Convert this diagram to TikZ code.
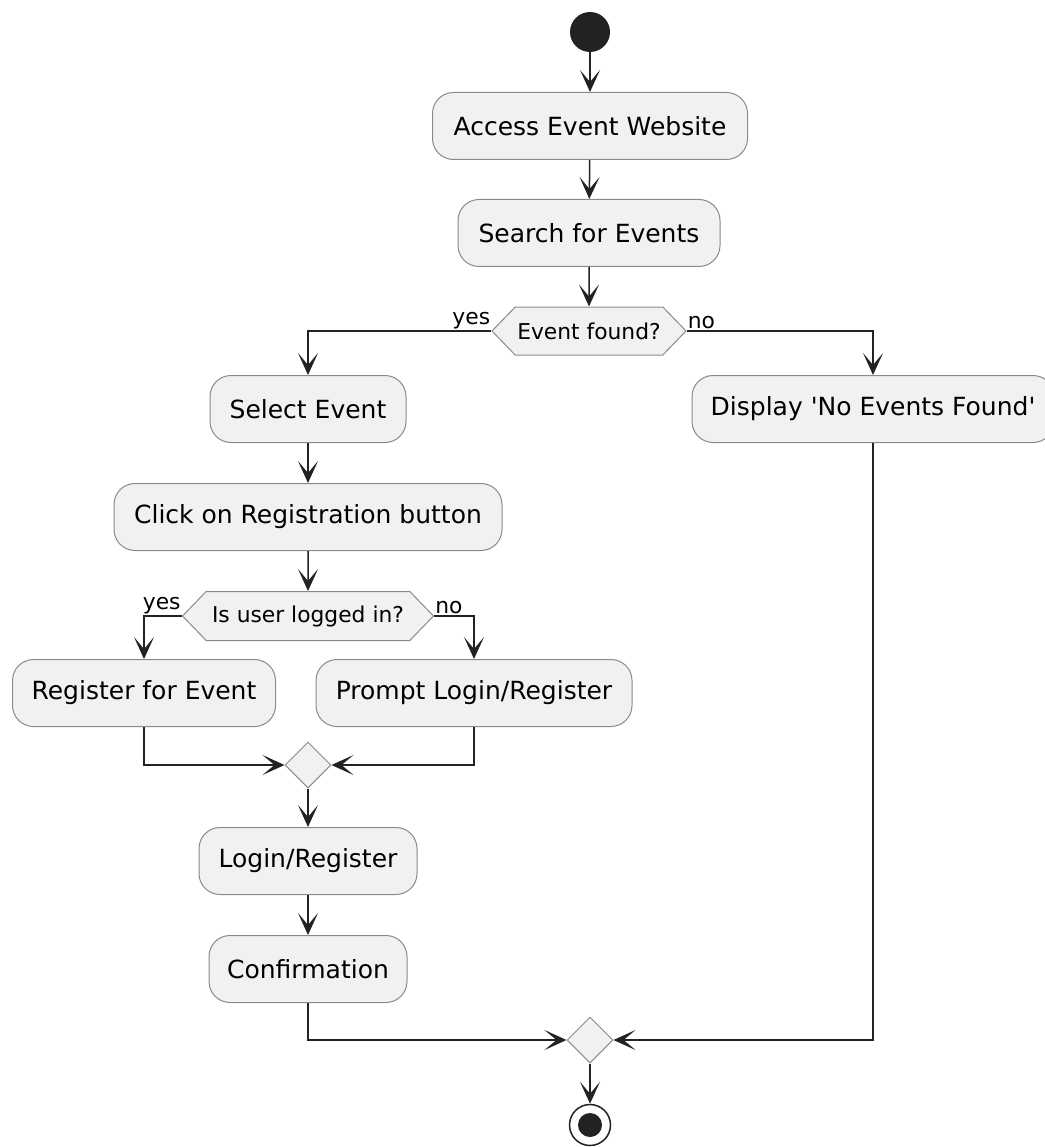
\documentclass[tikz,border=0pt]{standalone}
\usepackage{fontspec}
\setmainfont{DejaVu Sans}
\usetikzlibrary{arrows.meta,shapes.geometric,shapes.symbols}
% straight apostrophe, taken as a glyph so no quote ligature applies
\newcommand\straightquote{\XeTeXglyph\XeTeXglyphindex "quotesingle"\relax}
\definecolor{actfill}{HTML}{F1F1F1}
\definecolor{actline}{HTML}{8A8A8A}
\definecolor{ink}{HTML}{222222}
\tikzset{
  act/.style={draw=actline, line width=1pt, fill=actfill, rounded corners=21pt,
    minimum height=67pt, inner sep=0pt, font=\fontsize{25}{29}\selectfont},
  hex/.style={signal, signal to=west and east, signal pointer angle=92,
    draw=actline, line width=1pt, fill=actfill, inner sep=0pt,
    font=\fontsize{21.8}{25}\selectfont},
  merge/.style={diamond, aspect=1, draw=actline, line width=1pt, fill=actfill,
    minimum width=46pt, minimum height=46pt, inner sep=0pt},
  lbl/.style={font=\fontsize{21.8}{25}\selectfont, inner sep=1pt},
  flow/.style={draw=ink, line width=1.5pt,
    -{Stealth[length=22pt,width=20pt,inset=12pt]}},
}
\begin{document}
\begin{tikzpicture}[x=1pt,y=-1pt]
\useasboundingbox (0,0) rectangle (1044,1147);

% start / end markers
\node[circle, fill=ink, minimum size=40pt, inner sep=0pt] (start) at (590,32) {};
\node[circle, draw=ink, line width=1.5pt, fill=white, minimum size=41pt, inner sep=0pt] (stop) at (590,1125) {};
\fill[ink] (stop.center) circle (12pt);

% main actions
\node[act, minimum width=315pt] (access) at (590,126) {Access Event Website};
\node[act, minimum width=262pt] (search) at (589,233) {Search for Events};
\node[hex, minimum width=194pt, minimum height=48pt] (found) at (589,331) {Event found?};
\node[act, minimum width=196pt] (select) at (308,409) {Select Event};
\node[act, minimum width=362pt] (display) at (873,409) {Display \straightquote No Events Found\straightquote};
\node[act, minimum width=388pt] (click) at (308,517) {Click on Registration button};
\node[hex, minimum width=251pt, minimum height=49pt] (logged) at (308,616) {Is user logged in?};
\node[act, minimum width=263pt] (register) at (144,693) {Register for Event};
\node[act, minimum width=316pt] (prompt) at (474,693) {Prompt Login/Register};
\node[merge] (merge1) at (308,765) {};
\node[act, minimum width=218pt] (login) at (308,861) {Login/Register};
\node[act, minimum width=198pt] (confirm) at (308,969) {Confirmation};
\node[merge] (merge2) at (590,1040) {};

% branch labels
\node[lbl, anchor=south east] (yes1) at ([yshift=1pt]found.west) {yes};
\node[lbl, anchor=south west] (no1) at ([yshift=1pt]found.east) {no};
\node[lbl, anchor=south east] (yes2) at ([yshift=1pt]logged.west) {yes};
\node[lbl, anchor=south west] (no2) at ([yshift=1pt]logged.east) {no};

% flow
\draw[flow] (start) -- (access);
\draw[flow] (access) -- (search);
\draw[flow] (search) -- (found);
\draw[flow] (found.west) -| (select.north);
\draw[flow] (found.east) -| (display.north);
\draw[flow] (select) -- (click);
\draw[flow] (click) -- (logged);
\draw[flow] (logged.west) -| (register.north);
\draw[flow] (logged.east) -| (prompt.north);
\draw[flow] (register.south) |- (merge1.west);
\draw[flow] (prompt.south) |- (merge1.east);
\draw[flow] (merge1) -- (login);
\draw[flow] (login) -- (confirm);
\draw[flow] (confirm.south) |- (merge2.west);
\draw[flow] (display.south) |- (merge2.east);
\draw[flow] (merge2) -- (stop);
\end{tikzpicture}
\end{document}
